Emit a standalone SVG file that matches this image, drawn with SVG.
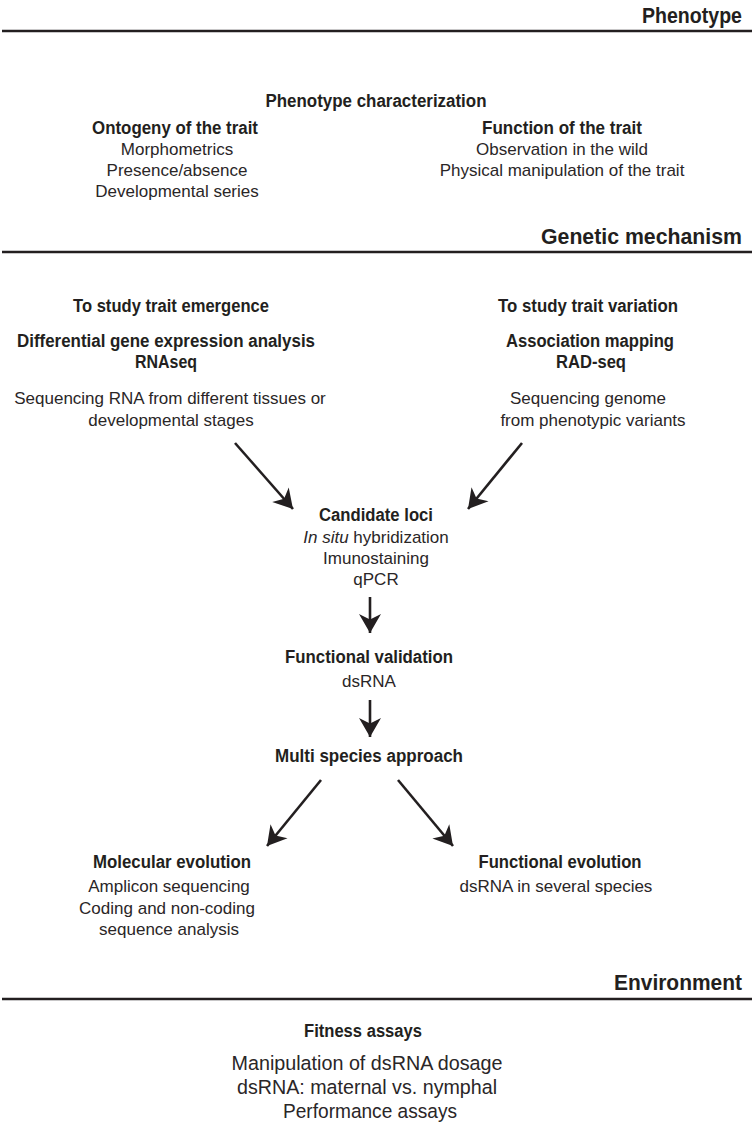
<svg xmlns="http://www.w3.org/2000/svg" width="754" height="1123" viewBox="0 0 754 1123">
<style>
text{font-family:"Liberation Sans",Arial,sans-serif;fill:#231f20;text-anchor:middle}
.h{font-size:22px;font-weight:bold;text-anchor:end}
.b{font-size:18px;font-weight:bold}
.r{font-size:17px;fill:#2a2627}
.f{font-size:20.5px;fill:#2a2627}
.rule{stroke:#231f20;stroke-width:2.5}
.arr{stroke:#231f20;stroke-width:2.6;fill:none;marker-end:url(#ah)}
</style>
<defs>
<marker id="ah" markerUnits="userSpaceOnUse" markerWidth="26" markerHeight="26" viewBox="-22 -13 26 26" refX="0" refY="0" orient="auto">
<path d="M0,0 L-19,-11 L-13.5,0 L-19,11 Z" fill="#231f20"/>
</marker>
</defs>
<g id="section-phenotype">
<text class="h" x="742" y="22.5" textLength="100" lengthAdjust="spacingAndGlyphs">Phenotype</text>
<line class="rule" x1="2" y1="31" x2="752" y2="31"/>
</g>
<g id="node-phenotype-char"><text class="b" x="376" y="107" textLength="221" lengthAdjust="spacingAndGlyphs">Phenotype characterization</text></g>
<g id="node-ontogeny">
<text class="b" x="175" y="134" textLength="166" lengthAdjust="spacingAndGlyphs">Ontogeny of the trait</text>
<text class="r" x="177" y="155">Morphometrics</text>
<text class="r" x="177" y="176">Presence/absence</text>
<text class="r" x="177" y="197">Developmental series</text>
</g>
<g id="node-function">
<text class="b" x="562" y="134" textLength="160" lengthAdjust="spacingAndGlyphs">Function of the trait</text>
<text class="r" x="562" y="155">Observation in the wild</text>
<text class="r" x="562" y="176">Physical manipulation of the trait</text>
</g>
<g id="section-genetic">
<text class="h" x="742" y="243.5" textLength="201" lengthAdjust="spacingAndGlyphs">Genetic mechanism</text>
<line class="rule" x1="2" y1="252" x2="752" y2="252"/>
</g>
<g id="node-emergence">
<text class="b" x="171" y="312" textLength="196" lengthAdjust="spacingAndGlyphs">To study trait emergence</text>
<text class="b" x="166" y="347" textLength="298" lengthAdjust="spacingAndGlyphs">Differential gene expression analysis</text>
<text class="b" x="166" y="368" textLength="62" lengthAdjust="spacingAndGlyphs">RNAseq</text>
<text class="r" x="170" y="404">Sequencing RNA from different tissues or</text>
<text class="r" x="171" y="426">developmental stages</text>
</g>
<g id="node-variation">
<text class="b" x="588" y="312" textLength="180" lengthAdjust="spacingAndGlyphs">To study trait variation</text>
<text class="b" x="590" y="347" textLength="168" lengthAdjust="spacingAndGlyphs">Association mapping</text>
<text class="b" x="591" y="368" textLength="70" lengthAdjust="spacingAndGlyphs">RAD-seq</text>
<text class="r" x="588" y="404">Sequencing genome</text>
<text class="r" x="593" y="426">from phenotypic variants</text>
</g>
<g id="node-candidate">
<text class="b" x="376" y="521" textLength="114" lengthAdjust="spacingAndGlyphs">Candidate loci</text>
<text class="r" x="376" y="543"><tspan font-style="italic">In situ</tspan> hybridization</text>
<text class="r" x="376" y="564">Imunostaining</text>
<text class="r" x="376" y="585">qPCR</text>
</g>
<g id="node-validation">
<text class="b" x="369" y="663" textLength="168" lengthAdjust="spacingAndGlyphs">Functional validation</text>
<text class="r" x="369" y="687">dsRNA</text>
</g>
<g id="node-multi">
<text class="b" x="369" y="762" textLength="188" lengthAdjust="spacingAndGlyphs">Multi species approach</text>
</g>
<g id="node-molecular">
<text class="b" x="172" y="868" textLength="158" lengthAdjust="spacingAndGlyphs">Molecular evolution</text>
<text class="r" x="169" y="892">Amplicon sequencing</text>
<text class="r" x="167" y="914">Coding and non-coding</text>
<text class="r" x="169" y="935">sequence analysis</text>
</g>
<g id="node-functional-evo">
<text class="b" x="560" y="868" textLength="163" lengthAdjust="spacingAndGlyphs">Functional evolution</text>
<text class="r" x="556" y="892">dsRNA in several species</text>
</g>
<g id="section-environment">
<text class="h" x="742" y="989.5" textLength="128" lengthAdjust="spacingAndGlyphs">Environment</text>
<line class="rule" x1="2" y1="999" x2="752" y2="999"/>
</g>
<g id="node-fitness">
<text class="b" x="363" y="1037" textLength="118" lengthAdjust="spacingAndGlyphs">Fitness assays</text>
<text class="f" x="367" y="1070" textLength="271" lengthAdjust="spacingAndGlyphs">Manipulation of dsRNA dosage</text>
<text class="f" x="367" y="1094" textLength="260" lengthAdjust="spacingAndGlyphs">dsRNA: maternal vs. nymphal</text>
<text class="f" x="370" y="1118" textLength="174" lengthAdjust="spacingAndGlyphs">Performance assays</text>
</g>
<g id="connectors">
<line class="arr" x1="235" y1="443" x2="293" y2="509"/>
<line class="arr" x1="522" y1="443" x2="468" y2="509"/>
<line class="arr" x1="370" y1="597" x2="370" y2="633"/>
<line class="arr" x1="370" y1="700" x2="370" y2="737"/>
<line class="arr" x1="321" y1="780" x2="267" y2="846"/>
<line class="arr" x1="398" y1="780" x2="453" y2="846"/>
</g>
</svg>
